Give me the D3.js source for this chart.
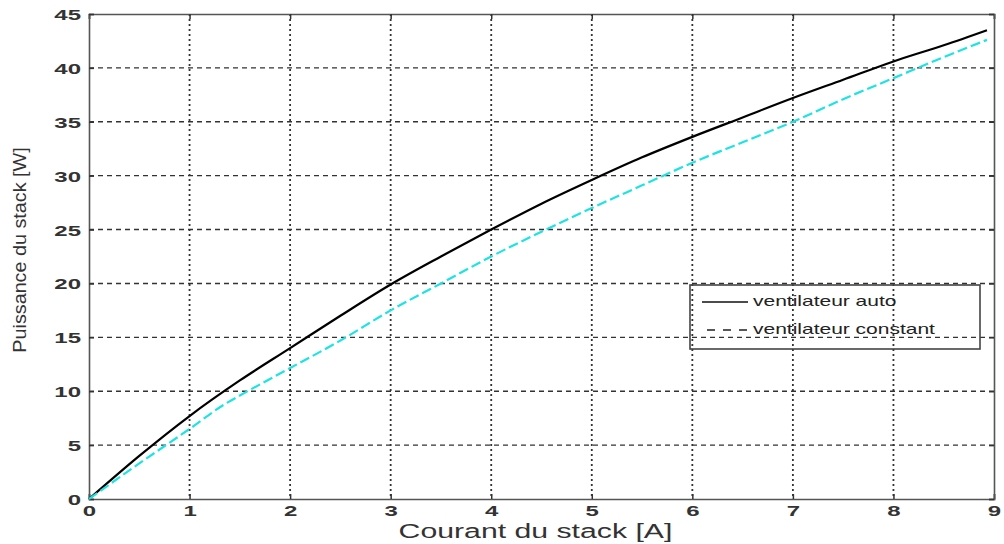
<!DOCTYPE html>
<html>
<head>
<meta charset="utf-8">
<script src="https://cdn.jsdelivr.net/npm/d3@7"></script>
<style>
  html, body { margin: 0; padding: 0; background: #fff; }
  svg { display: block; }
  text { font-family: "Liberation Sans", Arial, Helvetica, sans-serif; }
</style>
</head>
<body>
<svg id="chart" width="1004" height="544"></svg>
<script>
// Stack current [A]
const currentAuto = [0, 0.5, 1, 1.5, 2, 2.5, 3, 3.5, 4, 4.5, 5, 5.5, 6, 6.5, 7, 7.5, 8, 8.5, 8.93];
// Stack power with automatic fan control
const powerAuto = [0, 4.0, 7.7, 11.0, 14.0, 17.0, 19.9, 22.5, 25.0, 27.4, 29.6, 31.7, 33.6, 35.4, 37.2, 38.9, 40.6, 42.1, 43.5];

const currentConst = [0, 0.5, 1, 1.35, 1.5, 2, 2.5, 3, 3.5, 4, 4.5, 5, 5.5, 6, 6.5, 7, 7.5, 8, 8.5, 8.93];
// Stack power with constant fan speed
const powerConst = [0, 3.3, 6.5, 8.8, 9.6, 12.15, 14.7, 17.5, 20.0, 22.5, 24.8, 27.0, 29.1, 31.2, 33.1, 35.0, 37.1, 39.05, 41.0, 42.6];

const xTicks = [0, 1, 2, 3, 4, 5, 6, 7, 8, 9];
const yTicks = [0, 5, 10, 15, 20, 25, 30, 35, 40, 45];

const seriesNames = ["ventilateur auto", "ventilateur constant"];
const xTitle = "Courant du stack [A]";
const yTitle = "Puissance du stack [W]";

const svg = d3.select("#chart");
const pLeft = 89, pRight = 994, pTop = 14, pBottom = 499;
const sx = 1.6; // horizontal widening of the lettering

const x = d3.scaleLinear().domain([0, 9]).range([pLeft, pRight]);
const y = d3.scaleLinear().domain([0, 45]).range([pBottom, pTop]);

// grid
const grid = svg.append("g");
grid.selectAll("line.h").data(yTicks.slice(1, -1)).join("line")
  .attr("x1", pLeft).attr("x2", pRight)
  .attr("y1", d => y(d)).attr("y2", d => y(d))
  .attr("stroke", "#333").attr("stroke-width", 1.4)
  .attr("stroke-dasharray", "5,4");
grid.selectAll("line.v").data(xTicks.slice(1, -1)).join("line")
  .attr("y1", pTop).attr("y2", pBottom)
  .attr("x1", d => x(d)).attr("x2", d => x(d))
  .attr("stroke", "#333").attr("stroke-width", 1.8)
  .attr("stroke-dasharray", "2,3");

// axes
const axB = svg.append("g").attr("transform", `translate(0,${pBottom})`)
  .call(d3.axisBottom(x).tickValues(xTicks).tickSize(-5).tickPadding(0).tickFormat(d3.format("d")));
const axT = svg.append("g").attr("transform", `translate(0,${pTop})`)
  .call(d3.axisTop(x).tickValues(xTicks).tickSize(-5).tickFormat(""));
const axL = svg.append("g").attr("transform", `translate(${pLeft},0)`)
  .call(d3.axisLeft(y).tickValues(yTicks).tickSize(-5).tickFormat(d3.format("d")));
const axR = svg.append("g").attr("transform", `translate(${pRight},0)`)
  .call(d3.axisRight(y).tickValues(yTicks).tickSize(-5).tickFormat(""));

[axB, axT, axL, axR].forEach(a => {
  a.select(".domain").attr("stroke", "#555").attr("stroke-width", 1.6);
  a.selectAll(".tick line").attr("stroke", "#333").attr("stroke-width", 1.5);
});

axB.selectAll(".tick text")
  .attr("y", 0).attr("dy", null)
  .attr("transform", `translate(0,17) scale(${sx},1)`)
  .attr("font-size", 15).attr("font-weight", "bold").attr("fill", "#333")
  .attr("font-family", "Liberation Sans, Arial, sans-serif");
axL.selectAll(".tick text")
  .attr("x", 0).attr("dy", null)
  .attr("transform", `translate(-8,5.5) scale(${sx},1)`)
  .attr("font-size", 15).attr("font-weight", "bold").attr("fill", "#333")
  .attr("font-family", "Liberation Sans, Arial, sans-serif");

// axis titles
svg.append("text")
  .attr("transform", `translate(${(pLeft + pRight) / 2 - 6},538) scale(1.44,1)`)
  .attr("text-anchor", "middle").attr("font-size", 21).attr("fill", "#333")
  .text(xTitle);
svg.append("text")
  .attr("transform", "translate(26,250) rotate(-90) scale(1.04,1)")
  .attr("text-anchor", "middle").attr("font-size", 19).attr("fill", "#333")
  .text(yTitle);

// curves
const line = d3.line().curve(d3.curveMonotoneX);
svg.append("path")
  .attr("d", line(currentAuto.map((c, i) => [x(c), y(powerAuto[i])])))
  .attr("fill", "none").attr("stroke", "#000").attr("stroke-width", 2.2);
svg.append("path")
  .attr("d", line(currentConst.map((c, i) => [x(c), y(powerConst[i])])))
  .attr("fill", "none").attr("stroke", "#1fe3e3").attr("stroke-width", 2.2)
  .attr("stroke-dasharray", "10,4");

// legend
const lg = svg.append("g");
lg.append("rect")
  .attr("x", 690).attr("y", 285).attr("width", 290).attr("height", 64)
  .attr("fill", "none").attr("stroke", "#444").attr("stroke-width", 1.6);
const rows = [
  { name: seriesNames[0], yy: 302, dash: null, x1: 702, color: "#111" },
  { name: seriesNames[1], yy: 330, dash: "8,8", x1: 707, color: "#222" }
];
rows.forEach(r => {
  lg.append("line").attr("x1", r.x1).attr("x2", 748)
    .attr("y1", r.yy).attr("y2", r.yy)
    .attr("stroke", r.color).attr("stroke-width", 1.6)
    .attr("stroke-dasharray", r.dash);
  lg.append("text")
    .attr("transform", `translate(753,${r.yy + 4}) scale(1.5,1)`)
    .attr("font-size", 14).attr("fill", "#222")
    .text(r.name);
});
</script>
</body>
</html>
